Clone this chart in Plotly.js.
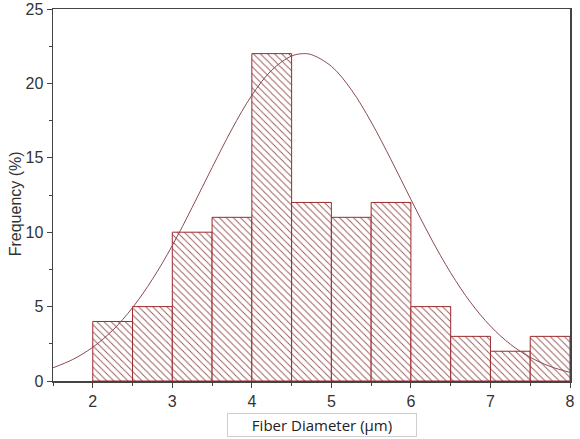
<!DOCTYPE html>
<html>
<head>
<meta charset="utf-8">
<script src="https://cdn.plot.ly/plotly-3.0.1.min.js"></script>
<style>html,body{margin:0;padding:0;background:#fff;}#chart{width:580px;height:439px;}</style>
</head>
<body>
<div id="chart"></div>
<script>
// Histogram bins (bin centers, µm) and frequencies (%)
const binCenters = [2.25, 2.75, 3.25, 3.75, 4.25, 4.75, 5.25, 5.75, 6.25, 6.75, 7.25, 7.75];
const frequency  = [4, 5, 10, 11, 22, 12, 11, 12, 5, 3, 2, 3];
const binWidth = 0.5;

// Fitted distribution curve
const curveX = [1.5, 1.75, 2, 2.25, 2.5, 2.75, 3, 3.25, 3.5, 3.75, 4, 4.25, 4.5, 4.65, 4.75, 5, 5.25, 5.5, 5.75, 6, 6.25, 6.5, 6.75, 7, 7.25, 7.5, 7.75, 8];
const curveY = [0.89, 1.45, 2.27, 3.41, 4.93, 6.84, 9.1, 11.67, 14.34, 16.93, 19.2, 20.89, 21.84, 22.0, 21.93, 21.15, 19.58, 17.41, 14.87, 12.2, 9.61, 7.27, 5.28, 3.69, 2.47, 1.59, 0.98, 0.58];

const xTicks = [2, 3, 4, 5, 6, 7, 8];
const yTicks = [0, 5, 10, 15, 20, 25];

const traces = [
  {
    type: 'bar',
    x: binCenters,
    y: frequency,
    width: binWidth,
    marker: {
      color: '#ffffff',
      line: {color: '#9b2a2c', width: 1},
      pattern: {shape: '\\', fgcolor: '#9a5558', bgcolor: '#ffffff', size: 5, solidity: 0.18}
    },
    hoverinfo: 'x+y'
  },
  {
    type: 'scatter',
    mode: 'lines',
    x: curveX,
    y: curveY,
    line: {color: '#8c4a50', width: 1, shape: 'spline'},
    hoverinfo: 'skip'
  }
];

const axisFont = {family: 'Liberation Sans', size: 16, color: '#333'};

const layout = {
  width: 580,
  height: 439,
  margin: {l: 53, r: 10, t: 9, b: 58},
  paper_bgcolor: '#ffffff',
  plot_bgcolor: '#ffffff',
  showlegend: false,
  bargap: 0,
  xaxis: {
    range: [1.5, 8],
    tickvals: xTicks,
    ticks: 'outside',
    ticklen: 5,
    tickcolor: '#444',
    tickfont: axisFont,
    showline: true,
    linecolor: '#444',
    linewidth: 1.5,
    mirror: true,
    showgrid: false,
    zeroline: false,
    minor: {dtick: 0.5, ticks: 'outside', ticklen: 3, tickcolor: '#444', showgrid: false}
  },
  yaxis: {
    range: [0, 25],
    tickvals: yTicks,
    ticks: 'outside',
    ticklen: 5,
    tickcolor: '#444',
    tickfont: axisFont,
    showline: true,
    linecolor: '#444',
    linewidth: 1.5,
    mirror: true,
    showgrid: false,
    zeroline: false,
    minor: {dtick: 2.5, ticks: 'outside', ticklen: 3, tickcolor: '#444', showgrid: false}
  },
  annotations: [
    {
      xref: 'paper', yref: 'paper',
      x: 0.52, y: -0.118,
      xanchor: 'center', yanchor: 'middle',
      text: 'Fiber Diameter (µm)',
      showarrow: false,
      font: {family: 'Open Sans, sans-serif', size: 15, color: '#222'},
      bordercolor: '#cfcfcf',
      borderwidth: 1,
      width: 186,
      height: 20,
      borderpad: 1
    },
    {
      xref: 'paper', yref: 'paper',
      x: -0.0735, y: 0.475,
      xanchor: 'center', yanchor: 'middle',
      textangle: -90,
      text: 'Frequency (%)',
      showarrow: false,
      font: {family: 'Liberation Sans', size: 16, color: '#333'}
    }
  ]
};

Plotly.newPlot('chart', traces, layout, {displayModeBar: false, staticPlot: true});
</script>
</body>
</html>
